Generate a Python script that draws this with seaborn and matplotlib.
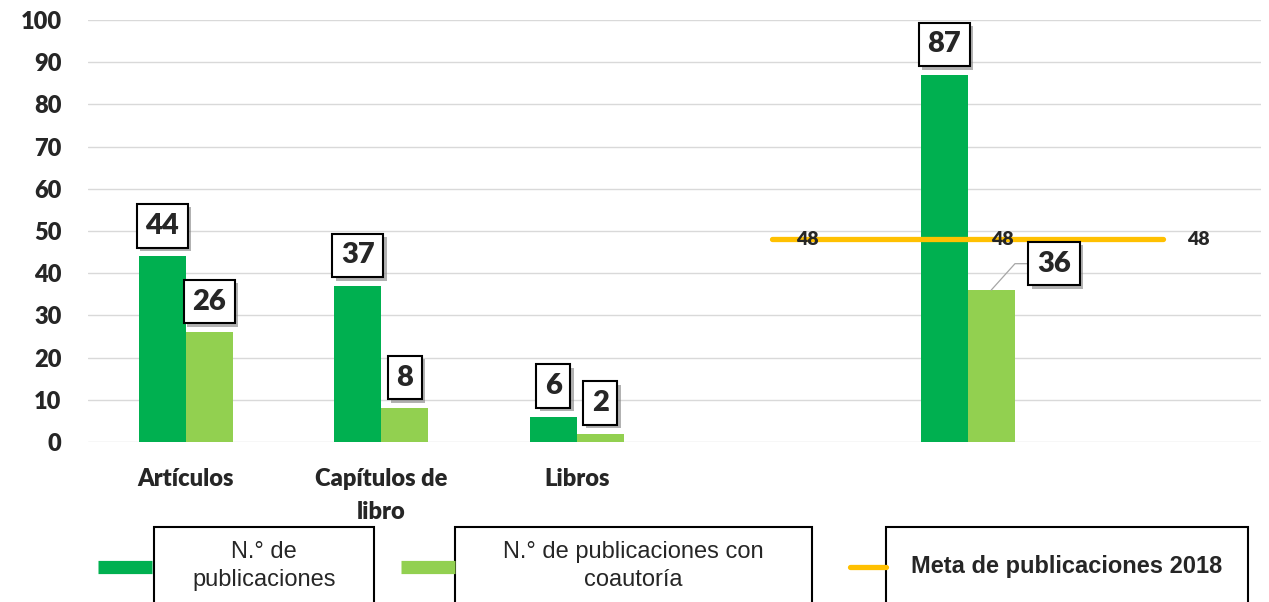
import pandas as pd
import matplotlib.pyplot as plt
import matplotlib.patheffects as pe
from matplotlib.lines import Line2D
from matplotlib.patches import Rectangle
import seaborn as sns

# Category slots on the x axis (blank slots keep the gap and the total column)
categories = ['Artículos', 'Capítulos de\nlibro', 'Libros', ' ', '  ', '   ']
bar_cats = ['Artículos', 'Capítulos de\nlibro', 'Libros', '  ']
n_publicaciones = [44, 37, 6, 87]
n_coautoria = [26, 8, 2, 36]
meta_cats = [' ', '  ', '   ']
meta_values = [48, 48, 48]
series = ['N.° de\npublicaciones', 'N.° de publicaciones con\ncoautoría']
meta_name = 'Meta de publicaciones 2018'
colors = ['#00B050', '#92D050']
meta_color = '#FFC000'

df = pd.DataFrame({
    'cat': bar_cats * 2,
    'serie': [series[0]] * len(bar_cats) + [series[1]] * len(bar_cats),
    'valor': n_publicaciones + n_coautoria,
})

sns.set_style('white')
plt.rcParams['font.family'] = ['Lato', 'DejaVu Sans']
BOLD = 'heavy'

fig = plt.figure(figsize=(12.69, 6.02), dpi=100)
ax = fig.add_axes([88 / 1269, 1 - 442 / 602, (1261 - 88) / 1269, (442 - 20) / 602])

sns.barplot(data=df, x='cat', y='valor', hue='serie', order=categories,
            hue_order=series, palette=colors, saturation=1, width=0.48, linewidth=0,
            legend=False, ax=ax)

# Meta line
mx = [categories.index(c) for c in meta_cats]
ax.plot(mx, meta_values, color=meta_color, lw=3.8, solid_capstyle='round', zorder=3)
for x, v in zip(mx, meta_values):
    ax.annotate(str(v), (x, v), xytext=(25, 0), textcoords='offset points',
                ha='center', va='center', fontsize=14, fontweight=BOLD, zorder=4)

ax.set_ylim(0, 100)
ax.set_xlim(-0.5, len(categories) - 0.5)
ax.set_yticks(range(0, 101, 10))
ax.yaxis.grid(True, color='#D9D9D9', lw=1)
ax.set_axisbelow(True)
sns.despine(ax=ax, left=True, bottom=True)
ax.tick_params(axis='y', length=0, pad=19, labelsize=17)
ax.tick_params(axis='x', length=0, pad=19, labelsize=17)
for lab in ax.get_xticklabels() + ax.get_yticklabels():
    lab.set_fontweight(BOLD)
for lab in ax.get_xticklabels():
    lab.set_linespacing(1.6)
ax.set_xlabel('')
ax.set_ylabel('')

shadow = [pe.withSimplePatchShadow(offset=(2.5, -2.5), shadow_rgbFace='#7F7F7F', alpha=0.6)]
box = dict(boxstyle='square,pad=0.3', fc='white', ec='black', lw=1.5)

for ci, cont in enumerate(ax.containers):
    for bar in cont:
        h = bar.get_height()
        if pd.isna(h) or h == 0:
            continue
        xc = bar.get_x() + bar.get_width() / 2
        if ci == 1 and h == n_coautoria[-1]:
            t = ax.annotate(f'{h:.0f}', (xc, h), xytext=(33, 19), textcoords='offset points',
                            ha='left', va='center', fontsize=21, fontweight=BOLD, bbox=box,
                            arrowprops=dict(arrowstyle='-', color='#A6A6A6', lw=0.9,
                                            shrinkA=0, shrinkB=0, relpos=(0, 0.5),
                                            connectionstyle='angle,angleA=180,angleB=48,rad=0'),
                            zorder=5)
        else:
            t = ax.annotate(f'{h:.0f}', (xc, h), xytext=(0, 22), textcoords='offset points',
                            ha='center', va='center', fontsize=21, fontweight=BOLD, bbox=box,
                            zorder=5)
        t.get_bbox_patch().set_path_effects(shadow)

# Legend drawn as in the original: handle + framed text box
W, H = 1269, 602
def fx(px):
    return px / W
def fy(py):
    return 1 - py / H

legend_items = [
    (98, 152, 154, 374, series[0], colors[0], 9.5, 'butt', 'normal'),
    (401, 455, 455, 812, series[1], colors[1], 9.5, 'butt', 'normal'),
    (850, 886, 886, 1248, meta_name, meta_color, 3.8, 'round', 'bold'),
]
for hx0, hx1, bx0, bx1, txt, col, lw, cap, wt in legend_items:
    fig.add_artist(Line2D([fx(hx0), fx(hx1)], [fy(567), fy(567)], color=col, lw=lw,
                          solid_capstyle=cap, transform=fig.transFigure))
    fig.add_artist(Rectangle((fx(bx0), fy(640)), fx(bx1) - fx(bx0), fy(527) - fy(640),
                             fc='white', ec='black', lw=1.5, transform=fig.transFigure,
                             clip_on=False))
    fig.text(fx((bx0 + bx1) / 2), fy(566), txt, ha='center', va='center', fontsize=17,
             fontweight=wt, family=['Liberation Sans', 'DejaVu Sans'], linespacing=1.3)

fig.savefig('out.png', dpi=100)
